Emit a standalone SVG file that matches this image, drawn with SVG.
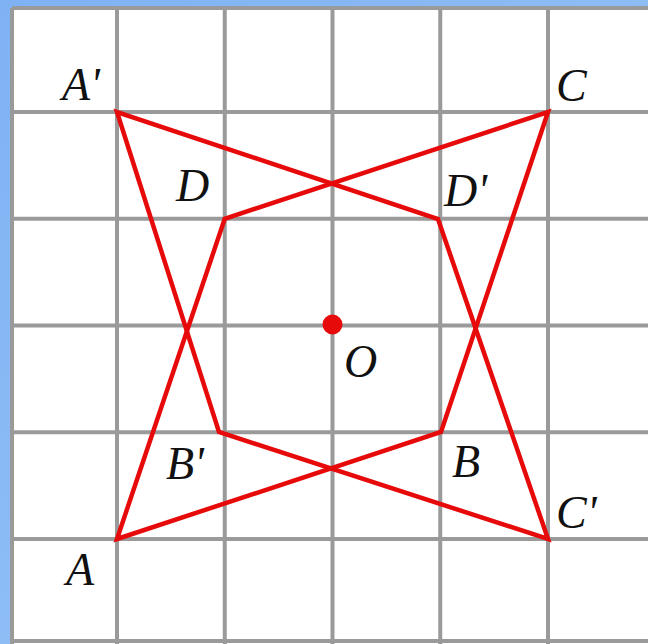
<svg xmlns="http://www.w3.org/2000/svg" width="648" height="644" viewBox="0 0 648 644">
<defs>
<linearGradient id="bg" x1="0" y1="0" x2="1" y2="1">
<stop offset="0" stop-color="#7fb2f4"/>
<stop offset="1" stop-color="#9cc8f8"/>
</linearGradient>
<style>
.grid{stroke:#9a9a9a;stroke-width:4;fill:none}
.red{stroke:#e60a0a;stroke-width:4.5;fill:none;stroke-linejoin:miter}
.lbl{font-family:"Liberation Serif","DejaVu Serif",serif;font-style:italic;font-size:46px;fill:#111}
</style>
</defs>
<rect width="648" height="644" fill="url(#bg)"/>
<rect x="12" y="8" width="640" height="640" fill="#fff"/>
<g id="grid" class="grid">
<line x1="12" y1="8" x2="12" y2="644"/>
<line x1="117" y1="8" x2="117" y2="644"/>
<line x1="224.75" y1="8" x2="224.75" y2="644"/>
<line x1="332.5" y1="8" x2="332.5" y2="644"/>
<line x1="440.25" y1="8" x2="440.25" y2="644"/>
<line x1="548" y1="8" x2="548" y2="644"/>
<line x1="12" y1="8" x2="648" y2="8"/>
<line x1="12" y1="112" x2="648" y2="112"/>
<line x1="12" y1="218.75" x2="648" y2="218.75"/>
<line x1="12" y1="325.5" x2="648" y2="325.5"/>
<line x1="12" y1="432.25" x2="648" y2="432.25"/>
<line x1="12" y1="539" x2="648" y2="539"/>
<line x1="12" y1="641" x2="648" y2="641"/>
</g>
<g id="connectors">
<polygon id="ABCD" class="red" points="117,539 441,432 548,112 224.75,218.75"/>
<polygon id="A1B1C1D1" class="red" points="117,112 219,432 548,539 438,219"/>
</g>
<g id="O"><circle cx="332.5" cy="324.5" r="10" fill="#e60a0a"/><text class="lbl" x="344" y="377">O</text></g>
<g id="A1"><text class="lbl" x="62" y="100">A'</text></g>
<g id="C"><text class="lbl" x="556" y="101">C</text></g>
<g id="D"><text class="lbl" x="176" y="201">D</text></g>
<g id="D1"><text class="lbl" x="444" y="206">D'</text></g>
<g id="B1"><text class="lbl" x="166" y="479">B'</text></g>
<g id="B"><text class="lbl" x="452" y="477">B</text></g>
<g id="C1"><text class="lbl" x="556" y="528">C'</text></g>
<g id="A"><text class="lbl" x="66" y="585">A</text></g>
</svg>
